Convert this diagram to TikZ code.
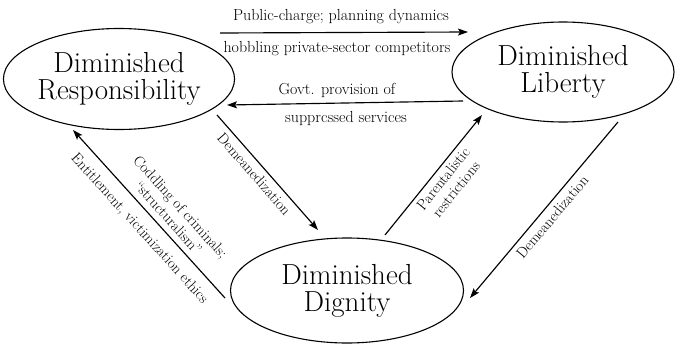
\documentclass[tikz,border=0pt]{standalone}
\usetikzlibrary{arrows.meta,shapes.geometric}
\begin{document}
\begin{tikzpicture}[x=1pt,y=-1pt,
  state/.style={draw, ellipse, line width=1.1pt, inner sep=0pt, align=center,
    font=\fontsize{29}{27}\selectfont},
  conn/.style={line width=1.15pt, -{Stealth[length=10pt,width=7pt,inset=2pt]}},
  lbl/.style={font=\fontsize{15}{16.5}\selectfont, inner sep=0pt, align=center},
  hlbl/.style={font=\fontsize{16}{17}\selectfont, inner sep=0pt, align=center}]
\useasboundingbox (0,0) rectangle (675,348);

\node[state, minimum width=228pt, minimum height=101pt] (DR) at (119,79) {Diminished\\Responsibility};
\node[state, minimum width=222pt, minimum height=100pt] (DL) at (563,72) {Diminished\\Liberty};
\node[state, minimum width=233pt, minimum height=105pt] (DD) at (347,290.5) {Diminished\\Dignity};

\coordinate (topS) at (220,33);
\coordinate (topE) at (468,32);
\coordinate (govS) at (463,101);
\coordinate (govE) at (227,105);
\coordinate (demAS) at (217,115);
\coordinate (demAE) at (318,230);
\coordinate (parS) at (385,235);
\coordinate (parE) at (482,115);
\coordinate (demBS) at (618,122);
\coordinate (demBE) at (470,298);
\coordinate (entS) at (225,298);
\coordinate (entE) at (73,130);

\draw[conn] (topS) -- node[hlbl, above=8pt, xshift=-3pt] (l1) {Public-charge; planning dynamics}
                   node[hlbl, below=8pt, xshift=-7pt] (l2) {hobbling private-sector competitors} (topE);
\draw[conn] (govS) -- node[hlbl, above=5pt, xshift=-8pt] (l3) {Govt. provision of}
                   node[hlbl, below=8pt, xshift=1pt] (l4) {supprcssed services} (govE);
\draw[conn] (demAS) -- node[lbl, sloped, pos=0.45, below=5pt] (l5) {Demeanedization} (demAE);
\draw[conn] (parS) -- node[lbl, sloped, pos=0.52, below=4pt] (l6) {Parentalistic\\restrictions} (parE);
\draw[conn] (demBS) -- node[lbl, sloped, pos=0.5, below=5pt] (l7) {Demeanedization} (demBE);
\draw[conn] (entS) -- node[lbl, sloped, pos=0.48, below=10pt] (l8) {Entitlement, victimization ethics}
                    node[lbl, sloped, pos=0.43, above=6pt] (l9) {Coddling of criminals;\\“structuralism”} (entE);
\end{tikzpicture}
\end{document}
